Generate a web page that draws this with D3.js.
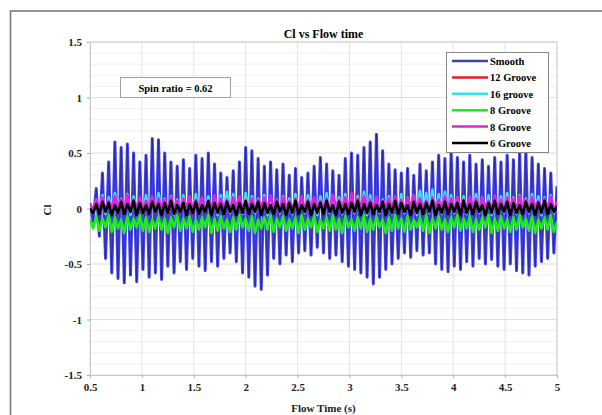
<!DOCTYPE html>
<html><head><meta charset="utf-8">
<script src="https://cdn.jsdelivr.net/npm/d3@7"></script>
<style>body{margin:0;background:#fff}svg{display:block}text{font-family:"Liberation Serif","DejaVu Serif",serif}</style>
</head><body><svg id="c" width="602" height="415"></svg>
<script>
// ---- data ----
const tStart = 0.5, tStep = 0.03;
const seriesNames = ["Smooth","12 Groove","16 groove","8 Groove","8 Groove","6 Groove"];
const seriesColors = ["#4646e8","#e02020","#30e4ec","#18f018","#e020e0","#000000"];
const xTicks = [0.5,1,1.5,2,2.5,3,3.5,4,4.5,5];
const xTickLabels = ["0.5","1","1.5","2","2.5","3","3.5","4","4.5","5"];
const yTicks = [-1.5,-1,-0.5,0,0.5,1,1.5];
const yTickLabels = ["-1.5","-1","-0.5","0","0.5","1","1.5"];
const smooth = [0.05,-0.12,0.18,-0.25,0.32,-0.45,0.42,-0.58,0.60,-0.63,0.55,-0.67,0.58,-0.60,0.50,-0.66,0.42,-0.55,0.48,-0.62,
0.63,-0.58,0.62,-0.64,0.50,-0.52,0.42,-0.58,0.38,-0.48,0.44,-0.55,0.36,-0.45,0.48,-0.52,0.45,-0.56,0.50,-0.48,
0.40,-0.52,0.32,-0.45,0.28,-0.40,0.34,-0.48,0.42,-0.58,0.55,-0.62,0.52,-0.70,0.45,-0.73,0.38,-0.60,0.42,-0.45,
0.35,-0.50,0.40,-0.42,0.30,-0.48,0.36,-0.40,0.28,-0.38,0.32,-0.42,0.38,-0.35,0.46,-0.40,0.40,-0.45,0.34,-0.42,
0.30,-0.48,0.45,-0.52,0.50,-0.55,0.48,-0.58,0.55,-0.62,0.60,-0.68,0.67,-0.62,0.52,-0.55,0.40,-0.50,0.35,-0.45,
0.32,-0.40,0.36,-0.44,0.30,-0.38,0.40,-0.42,0.34,-0.40,0.42,-0.50,0.48,-0.55,0.45,-0.57,0.50,-0.52,0.46,-0.55,
0.42,-0.48,0.48,-0.52,0.40,-0.45,0.44,-0.50,0.38,-0.46,0.46,-0.52,0.42,-0.55,0.48,-0.50,0.44,-0.56,0.50,-0.58,
0.52,-0.60,0.46,-0.52,0.40,-0.48,0.36,-0.45,0.32,-0.40,0.20];
const groove12 = [0.03,-0.02,0.05,-0.03,0.07,-0.04,0.06,-0.03,0.08,-0.05,0.06,-0.02,0.09,-0.04,0.05,-0.03,0.07,-0.05,0.08,-0.02,0.10,-0.04,0.06,-0.03,0.07,-0.05,0.05,-0.02,0.08,-0.04,
0.06,-0.03,0.09,-0.05,0.07,-0.02,0.06,-0.04,0.08,-0.03,0.05,-0.05,0.07,-0.02,0.09,-0.04,0.06,-0.03,0.08,-0.05,0.10,-0.02,0.06,-0.04,0.07,-0.03,0.05,-0.05,0.08,-0.02,
0.06,-0.04,0.09,-0.03,0.07,-0.05,0.06,-0.02,0.08,-0.04,0.05,-0.03,0.07,-0.05,0.09,-0.02,0.06,-0.04,0.08,-0.03,0.10,-0.05,0.07,-0.02,0.06,-0.04,0.12,-0.03,0.08,-0.05,
0.06,-0.02,0.07,-0.04,0.05,-0.03,0.09,-0.05,0.06,-0.02,0.08,-0.04,0.07,-0.03,0.05,-0.05,0.09,-0.02,0.06,-0.04,0.08,-0.03,0.07,-0.05,0.06,-0.02,0.09,-0.04,0.05,-0.03,
0.08,-0.05,0.07,-0.02,0.06,-0.04,0.09,-0.03,0.07,-0.05,0.06,-0.02,0.08,-0.04,0.05,-0.03,0.07,-0.05,0.06,-0.02,0.08,-0.04,0.06,-0.03,0.07,-0.05,0.05,-0.02,0.06,-0.04,0.04];
const groove16 = [0.02,-0.04,0.08,-0.03,0.12,-0.05,0.10,-0.02,0.14,-0.04,0.09,-0.03,0.13,-0.06,0.11,-0.02,0.08,-0.04,0.12,-0.05,0.10,-0.03,0.14,-0.02,0.09,-0.04,0.11,-0.06,0.08,-0.03,
0.12,-0.04,0.10,-0.02,0.13,-0.05,0.09,-0.03,0.11,-0.04,0.08,-0.06,0.12,-0.02,0.15,-0.04,0.13,-0.03,0.10,-0.05,0.14,-0.02,0.11,-0.04,0.09,-0.03,0.12,-0.06,0.10,-0.02,
0.08,-0.04,0.11,-0.03,0.09,-0.05,0.13,-0.02,0.10,-0.04,0.12,-0.03,0.08,-0.06,0.11,-0.02,0.14,-0.04,0.12,-0.03,0.10,-0.05,0.13,-0.02,0.09,-0.04,0.11,-0.03,0.15,-0.06,
0.12,-0.02,0.10,-0.04,0.08,-0.03,0.11,-0.05,0.09,-0.02,0.13,-0.04,0.10,-0.03,0.12,-0.06,0.16,-0.02,0.14,-0.04,0.17,-0.03,0.13,-0.05,0.15,-0.02,0.12,-0.04,0.10,-0.03,
0.11,-0.05,0.09,-0.02,0.13,-0.04,0.10,-0.03,0.12,-0.06,0.08,-0.02,0.11,-0.04,0.14,-0.03,0.10,-0.05,0.12,-0.02,0.09,-0.04,0.13,-0.03,0.11,-0.06,0.10,-0.02,0.12,-0.04,0.06];
const groove8a = [-0.10,-0.18,-0.07,-0.20,-0.09,-0.17,-0.06,-0.21,-0.08,-0.18,-0.10,-0.22,-0.07,-0.19,-0.09,-0.17,-0.06,-0.20,-0.08,-0.21,-0.10,-0.18,-0.07,-0.19,-0.09,-0.22,-0.08,-0.17,-0.06,-0.20,
-0.09,-0.18,-0.07,-0.21,-0.10,-0.19,-0.08,-0.17,-0.06,-0.22,-0.09,-0.20,-0.07,-0.18,-0.10,-0.21,-0.08,-0.19,-0.06,-0.17,-0.09,-0.20,-0.07,-0.22,-0.10,-0.18,-0.08,-0.19,-0.06,-0.21,
-0.09,-0.17,-0.07,-0.20,-0.10,-0.18,-0.08,-0.22,-0.06,-0.19,-0.09,-0.17,-0.07,-0.21,-0.10,-0.18,-0.08,-0.20,-0.06,-0.19,-0.09,-0.22,-0.07,-0.17,-0.10,-0.20,-0.08,-0.18,-0.06,-0.21,
-0.09,-0.19,-0.07,-0.17,-0.10,-0.22,-0.08,-0.20,-0.06,-0.18,-0.09,-0.21,-0.07,-0.19,-0.10,-0.17,-0.08,-0.20,-0.06,-0.22,-0.09,-0.18,-0.07,-0.19,-0.10,-0.21,-0.08,-0.17,-0.06,-0.20,
-0.09,-0.18,-0.07,-0.21,-0.10,-0.19,-0.08,-0.17,-0.06,-0.22,-0.09,-0.20,-0.07,-0.18,-0.10,-0.21,-0.08,-0.19,-0.06,-0.17,-0.09,-0.20,-0.07,-0.22,-0.10,-0.18,-0.08,-0.19,-0.06,-0.21,-0.12];
const groove8b = [0.04,-0.01,0.08,0.00,0.10,-0.02,0.07,0.01,0.11,-0.01,0.09,0.00,0.12,-0.02,0.08,0.01,0.10,-0.01,0.07,0.00,0.11,-0.02,0.09,0.01,0.08,-0.01,0.10,0.00,0.07,-0.02,
0.09,0.01,0.11,-0.01,0.08,0.00,0.10,-0.02,0.07,0.01,0.12,-0.01,0.09,0.00,0.08,-0.02,0.10,0.01,0.11,-0.01,0.07,0.00,0.09,-0.02,0.08,0.01,0.10,-0.01,0.12,0.00,
0.08,-0.02,0.10,0.01,0.07,-0.01,0.09,0.00,0.11,-0.02,0.08,0.01,0.10,-0.01,0.07,0.00,0.09,-0.02,0.12,0.01,0.08,-0.01,0.10,0.00,0.14,-0.02,0.09,0.01,0.11,-0.01,
0.08,0.00,0.10,-0.02,0.07,0.01,0.09,-0.01,0.11,0.00,0.08,-0.02,0.10,0.01,0.12,-0.01,0.09,0.00,0.07,-0.02,0.10,0.01,0.08,-0.01,0.11,0.00,0.09,-0.02,0.10,0.01,
0.08,-0.01,0.11,0.00,0.09,-0.02,0.10,0.01,0.07,-0.01,0.12,0.00,0.08,-0.02,0.10,0.01,0.09,-0.01,0.11,0.00,0.08,-0.02,0.10,0.01,0.07,-0.01,0.09,0.00,0.11,-0.02,0.06];
const groove6 = [0.00,-0.04,0.04,-0.05,0.06,-0.03,0.05,-0.06,0.03,-0.04,0.06,-0.05,0.04,-0.03,0.07,-0.06,0.05,-0.04,0.03,-0.05,0.06,-0.03,0.04,-0.06,0.05,-0.04,0.07,-0.05,0.03,-0.03,
0.05,-0.06,0.04,-0.04,0.06,-0.05,0.03,-0.03,0.07,-0.06,0.05,-0.04,0.04,-0.05,0.06,-0.03,0.03,-0.06,0.05,-0.04,0.07,-0.05,0.04,-0.03,0.06,-0.06,0.05,-0.04,0.03,-0.05,
0.06,-0.03,0.04,-0.06,0.05,-0.04,0.07,-0.05,0.03,-0.03,0.06,-0.06,0.04,-0.04,0.05,-0.05,0.07,-0.03,0.03,-0.06,0.06,-0.04,0.04,-0.05,0.05,-0.03,0.07,-0.06,0.04,-0.04,
0.05,-0.05,0.03,-0.03,0.06,-0.06,0.04,-0.04,0.07,-0.05,0.05,-0.03,0.03,-0.06,0.06,-0.04,0.04,-0.05,0.05,-0.03,0.07,-0.06,0.03,-0.04,0.06,-0.05,0.04,-0.03,0.05,-0.06,
0.07,-0.04,0.04,-0.05,0.06,-0.03,0.03,-0.06,0.05,-0.04,0.07,-0.05,0.04,-0.03,0.06,-0.06,0.05,-0.04,0.03,-0.05,0.06,-0.03,0.04,-0.06,0.05,-0.04,0.07,-0.05,0.04,-0.03,0.02];
const seriesValues = [smooth, groove12, groove16, groove8a, groove8b, groove6];
const titleText = "Cl vs Flow time", xLabel = "Flow Time (s)", yLabel = "Cl", annotation = "Spin ratio = 0.62";

// ---- drawing ----
const svg = d3.select("#c");
const L = 90, R = 557, T = 42, B = 375;
const x = d3.scaleLinear().domain([0.5,5]).range([L,R]);
const y = d3.scaleLinear().domain([-1.5,1.5]).range([B,T]);

svg.append("rect").attr("x",0).attr("y",0).attr("width",602).attr("height",415).attr("fill","#fff");
svg.append("rect").attr("x",10.5).attr("y",11).attr("width",600).attr("height",420)
  .attr("fill","none").attr("stroke","#7a7a7a").attr("stroke-width",1.6);

const g = svg.append("g");
g.append("g").selectAll("line").data(d3.range(-15,16).map(v=>v/10))
  .join("line").attr("x1",L).attr("x2",R).attr("y1",d=>y(d)).attr("y2",d=>y(d))
  .attr("stroke","#ececec").attr("stroke-width",0.8);
g.append("g").selectAll("line").data(yTicks).join("line")
  .attr("x1",L).attr("x2",R).attr("y1",d=>y(d)).attr("y2",d=>y(d)).attr("stroke","#dcdcdc").attr("stroke-width",0.8);
g.append("g").selectAll("line").data(xTicks).join("line")
  .attr("y1",T).attr("y2",B).attr("x1",d=>x(d)).attr("x2",d=>x(d)).attr("stroke","#dcdcdc").attr("stroke-width",0.8);

const xAxis = d3.axisBottom(x).tickValues(xTicks).tickFormat((d,i)=>xTickLabels[i]).tickSize(3).tickPadding(5);
const yAxis = d3.axisLeft(y).tickValues(yTicks).tickFormat((d,i)=>yTickLabels[yTicks.indexOf(d)]).tickSize(3).tickPadding(5);
const gx = svg.append("g").attr("transform",`translate(0,${B})`).call(xAxis);
const gy = svg.append("g").attr("transform",`translate(${L},0)`).call(yAxis);
[gx,gy].forEach(a=>{
  a.select(".domain").attr("stroke","#c8c8c8");
  a.selectAll(".tick line").attr("stroke","#aaaaaa");
  a.selectAll("text").attr("font-family","Liberation Serif").attr("font-size",11).attr("font-weight","bold").attr("fill","#222");
});
svg.append("line").attr("x1",L).attr("x2",R).attr("y1",T).attr("y2",T).attr("stroke","#d0d0d0");
svg.append("line").attr("x1",R).attr("x2",R).attr("y1",T).attr("y2",B).attr("stroke","#d0d0d0");

svg.append("clipPath").attr("id","clip").append("rect").attr("x",L).attr("y",T).attr("width",R-L).attr("height",B-T);
const line = d3.line().x((d,i)=>x(tStart + i*tStep)).y(d=>y(d));
const plot = svg.append("g").attr("clip-path","url(#clip)");
seriesValues.forEach((vals,k)=>{
  plot.append("path").datum(vals).attr("d",line).attr("fill","none")
    .attr("stroke",seriesColors[k]).attr("stroke-width",k===0?3.0:2.6).attr("stroke-linejoin","round");
  if (k===0) {
    plot.append("path").datum(vals).attr("d",line).attr("fill","none")
      .attr("stroke","#1c1c90").attr("stroke-width",0.6).attr("stroke-linejoin","round");
  }
});

svg.append("text").attr("x",(L+R)/2).attr("y",38).attr("text-anchor","middle")
  .attr("font-size",12).attr("font-weight","bold").text(titleText);
svg.append("text").attr("x",(L+R)/2).attr("y",412).attr("text-anchor","middle")
  .attr("font-size",11).attr("font-weight","bold").attr("fill","#222").text(xLabel);
svg.append("text").attr("transform","translate(51,210) rotate(-90)").attr("text-anchor","middle")
  .attr("font-size",11).attr("font-weight","bold").attr("fill","#222").text(yLabel);

svg.append("rect").attr("x",120.5).attr("y",77.5).attr("width",110).attr("height",20)
  .attr("fill","#fff").attr("stroke","#a0a0a0");
svg.append("text").attr("x",175.5).attr("y",91.5).attr("text-anchor","middle")
  .attr("font-size",10.5).attr("font-weight","bold").text(annotation);

const lg = svg.append("g");
lg.append("rect").attr("x",446.5).attr("y",52.5).attr("width",102).attr("height",100)
  .attr("fill","#fff").attr("stroke","#888");
const ly = d3.scalePoint().domain(d3.range(seriesNames.length)).range([61,143]);
seriesNames.forEach((n,k)=>{
  lg.append("line").attr("x1",452).attr("x2",488).attr("y1",ly(k)).attr("y2",ly(k))
    .attr("stroke",k===0?"#3a4a9a":seriesColors[k]).attr("stroke-width",2.5);
  lg.append("text").attr("x",490).attr("y",ly(k)+4).attr("font-size",10.5).attr("font-weight","bold").text(n);
});
</script></body></html>
